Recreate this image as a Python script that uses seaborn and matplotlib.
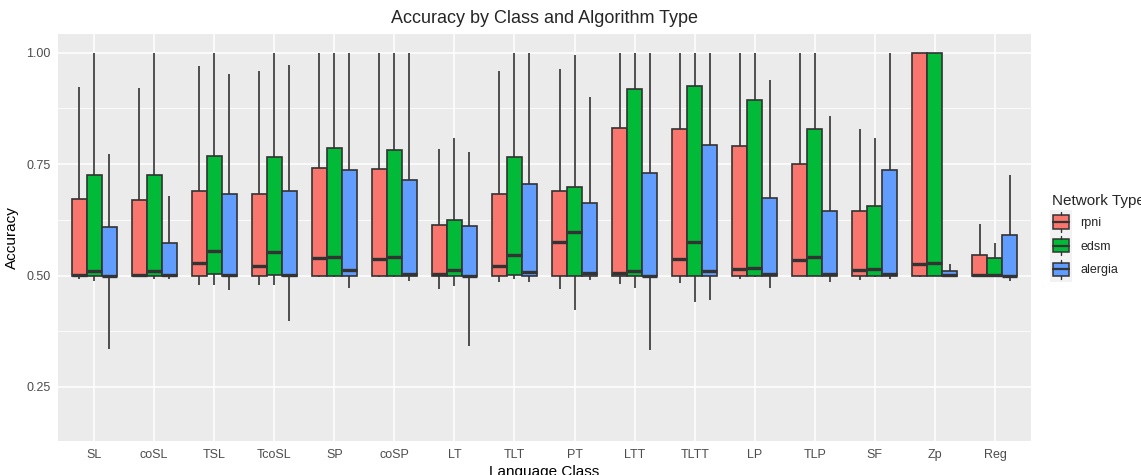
import numpy as np
import pandas as pd
import matplotlib
matplotlib.use('Agg')
import matplotlib.pyplot as plt
import seaborn as sns
from matplotlib.legend_handler import HandlerBase
from matplotlib.patches import Rectangle
from matplotlib.lines import Line2D

# language classes on the x axis
classes = ['SL', 'coSL', 'TSL', 'TcoSL', 'SP', 'coSP', 'LT', 'TLT', 'PT',
           'LTT', 'TLTT', 'LP', 'TLP', 'SF', 'Zp', 'Reg']
networks = ['rpni', 'edsm', 'alergia']
colors = ['#F8766D', '#00BA38', '#619CFF']

# five-number summaries: (min, q1, median, q3, max)
rpni = [
    (0.493, 0.500, 0.502, 0.671, 0.924),
    (0.496, 0.500, 0.501, 0.670, 0.921),
    (0.478, 0.500, 0.527, 0.689, 0.971),
    (0.478, 0.500, 0.522, 0.684, 0.958),
    (0.497, 0.500, 0.539, 0.742, 1.000),
    (0.497, 0.500, 0.538, 0.738, 1.000),
    (0.469, 0.500, 0.504, 0.614, 0.784),
    (0.486, 0.500, 0.521, 0.684, 0.960),
    (0.469, 0.500, 0.576, 0.689, 0.963),
    (0.481, 0.500, 0.505, 0.832, 1.000),
    (0.484, 0.500, 0.537, 0.829, 1.000),
    (0.493, 0.500, 0.515, 0.790, 1.000),
    (0.498, 0.500, 0.534, 0.751, 1.000),
    (0.491, 0.500, 0.513, 0.644, 0.829),
    (0.497, 0.500, 0.525, 1.000, 1.000),
    (0.499, 0.500, 0.502, 0.546, 0.615),
]
edsm = [
    (0.488, 0.500, 0.510, 0.725, 1.000),
    (0.493, 0.500, 0.510, 0.725, 1.000),
    (0.478, 0.504, 0.555, 0.769, 1.000),
    (0.478, 0.502, 0.552, 0.767, 1.000),
    (0.497, 0.500, 0.542, 0.787, 1.000),
    (0.496, 0.500, 0.541, 0.782, 1.000),
    (0.477, 0.500, 0.512, 0.624, 0.808),
    (0.493, 0.502, 0.546, 0.766, 1.000),
    (0.422, 0.500, 0.597, 0.699, 0.995),
    (0.472, 0.500, 0.511, 0.918, 1.000),
    (0.440, 0.500, 0.576, 0.925, 1.000),
    (0.497, 0.500, 0.516, 0.893, 1.000),
    (0.499, 0.500, 0.542, 0.829, 1.000),
    (0.497, 0.500, 0.515, 0.657, 0.809),
    (0.499, 0.500, 0.527, 1.000, 1.000),
    (0.499, 0.500, 0.502, 0.539, 0.573),
]
alergia = [
    (0.336, 0.499, 0.500, 0.609, 0.772),
    (0.493, 0.500, 0.501, 0.572, 0.678),
    (0.468, 0.500, 0.501, 0.682, 0.952),
    (0.399, 0.500, 0.501, 0.689, 0.972),
    (0.471, 0.500, 0.513, 0.737, 1.000),
    (0.488, 0.500, 0.503, 0.715, 1.000),
    (0.342, 0.499, 0.500, 0.612, 0.778),
    (0.486, 0.500, 0.507, 0.706, 1.000),
    (0.490, 0.500, 0.505, 0.662, 0.900),
    (0.332, 0.499, 0.500, 0.729, 1.000),
    (0.444, 0.500, 0.509, 0.794, 1.000),
    (0.472, 0.500, 0.503, 0.675, 0.939),
    (0.486, 0.500, 0.504, 0.644, 0.859),
    (0.493, 0.500, 0.503, 0.737, 1.000),
    (0.499, 0.499, 0.501, 0.510, 0.525),
    (0.488, 0.499, 0.500, 0.591, 0.725),
]

# each summary becomes 5 points: with linear percentiles they give back
# exactly q1 / median / q3, and whiskers at (0, 100) reach min / max
rows = []
for net, summ in zip(networks, [rpni, edsm, alergia]):
    for cls, vals in zip(classes, summ):
        for v in vals:
            rows.append({'Language Class': cls, 'Network Type': net, 'Accuracy': v})
df = pd.DataFrame(rows)

sns.set_style('darkgrid', {'axes.facecolor': '#EBEBEB', 'grid.color': 'white'})
plt.rcParams['font.family'] = ['Liberation Sans', 'DejaVu Sans']

W, H = 1141, 475
fig = plt.figure(figsize=(W / 100, H / 100), dpi=100)
ax = fig.add_axes([58 / W, 1 - 441 / H, (1031 - 58) / W, (441 - 34) / H])

sns.boxplot(data=df, x='Language Class', y='Accuracy', hue='Network Type',
            order=classes, hue_order=networks, palette=colors, saturation=1,
            width=0.75, gap=0, whis=(0, 100), showfliers=False, showcaps=False,
            linecolor='#333333', linewidth=1.2,
            medianprops={'linewidth': 2.4, 'color': '#333333'},
            legend=False, ax=ax, zorder=3)

ax.set_xlim(-0.6, len(classes) - 0.4)
ax.set_ylim(0.1286, 1.042)
ax.set_yticks([0.25, 0.5, 0.75, 1.0])
ax.set_yticklabels(['0.25', '0.50', '0.75', '1.00'])
ax.set_yticks([0.375, 0.625, 0.875], minor=True)
ax.grid(True, which='major', color='white', linewidth=1.1)
ax.grid(True, which='minor', axis='y', color='white', linewidth=0.55)
ax.set_axisbelow(True)
for s in ax.spines.values():
    s.set_visible(False)
ax.tick_params(axis='both', which='major', length=3.5, width=0.8, color='#333333',
               labelsize=9, labelcolor='#4D4D4D', pad=2)
ax.tick_params(axis='y', which='minor', length=0)

ax.set_xlabel('Language Class', fontsize=11, color='black', labelpad=3)
ax.set_ylabel('Accuracy', fontsize=11, color='black', labelpad=5)
ax.set_title('Accuracy by Class and Algorithm Type', fontsize=13, pad=8)


class BoxKey(HandlerBase):
    # ggplot-like legend key: grey square, small box with median and whiskers
    def create_artists(self, legend, orig_handle, xdescent, ydescent,
                       width, height, fontsize, trans):
        fc = orig_handle.get_facecolor()
        x0, y0 = -xdescent, -ydescent
        bg = Rectangle((x0 - 1.5, y0 - 2), width + 3, height + 4,
                       facecolor='#F2F2F2', edgecolor='none', transform=trans)
        cx = x0 + width / 2
        box = Rectangle((x0 + 1, y0 + height * 0.16), width - 2,
                        height * 0.68, facecolor=fc, edgecolor='#333333',
                        linewidth=1.1, transform=trans)
        med = Line2D([x0 + 1, x0 + width - 1], [y0 + height / 2] * 2,
                     color='#333333', linewidth=1.6, transform=trans)
        wt = Line2D([cx, cx], [y0 + height * 0.84, y0 + height],
                    color='#333333', linewidth=1.0, transform=trans)
        wb = Line2D([cx, cx], [y0, y0 + height * 0.16],
                    color='#333333', linewidth=1.0, transform=trans)
        return [bg, box, wt, wb, med]


handles = [Rectangle((0, 0), 1, 1, facecolor=c) for c in colors]
leg = fig.legend(handles, networks, title='Network Type',
                 handler_map={Rectangle: BoxKey()},
                 loc='upper left', bbox_to_anchor=(1047 / W, 1 - 189 / H),
                 frameon=False, fontsize=9, title_fontsize=11,
                 handlelength=1.45, handleheight=2.0, handletextpad=0.8,
                 labelspacing=0.35, borderaxespad=0)
leg._legend_box.align = 'left'

fig.savefig('out.png', dpi=100)
